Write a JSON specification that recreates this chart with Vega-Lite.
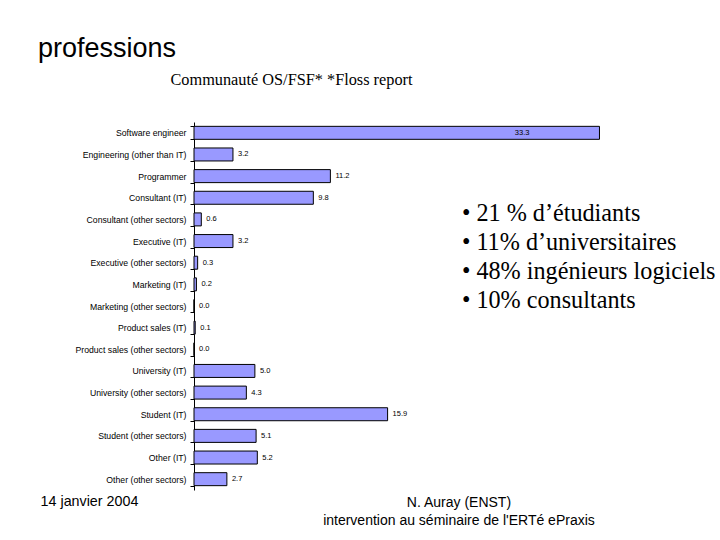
{
  "$schema": "https://vega.github.io/schema/vega-lite/v6.json",
  "autosize": {"type": "none"},
  "padding": {"left": 194, "top": 122, "right": 112, "bottom": 50},
  "width": 414,
  "height": 368,
  "background": "#ffffff",
  "config": {"view": {"stroke": null}},
  "title": {"text": "professions", "anchor": "start", "frame": "group", "dx": -156, "fontSize": 27, "font": "Liberation Sans", "fontWeight": "normal", "color": "#000000", "offset": 8},
  "data": {"values": [
    {"profession": "Software engineer", "value": 33.3},
    {"profession": "Engineering (other than IT)", "value": 3.2},
    {"profession": "Programmer", "value": 11.2},
    {"profession": "Consultant (IT)", "value": 9.8},
    {"profession": "Consultant (other sectors)", "value": 0.6},
    {"profession": "Executive (IT)", "value": 3.2},
    {"profession": "Executive (other sectors)", "value": 0.3},
    {"profession": "Marketing (IT)", "value": 0.2},
    {"profession": "Marketing (other sectors)", "value": 0.0},
    {"profession": "Product sales (IT)", "value": 0.1},
    {"profession": "Product sales (other sectors)", "value": 0.0},
    {"profession": "University (IT)", "value": 5.0},
    {"profession": "University (other sectors)", "value": 4.3},
    {"profession": "Student (IT)", "value": 15.9},
    {"profession": "Student (other sectors)", "value": 5.1},
    {"profession": "Other (IT)", "value": 5.2},
    {"profession": "Other (other sectors)", "value": 2.7}
  ]},
  "layer": [
    {
      "mark": {"type": "bar", "fill": "#9999ff", "stroke": "#000000", "strokeWidth": 1},
      "encoding": {
        "y": {"field": "profession", "type": "nominal", "sort": null,
          "scale": {"paddingInner": 0.4, "paddingOuter": 0.2},
          "axis": {"title": null, "domain": true, "domainColor": "#000000", "ticks": true, "tickColor": "#000000", "tickSize": 4, "tickBand": "extent", "labelFont": "Liberation Sans", "labelFontSize": 8.7, "labelColor": "#000000", "labelPadding": 4, "grid": false}},
        "x": {"field": "value", "type": "quantitative", "scale": {"domain": [0, 34], "nice": false},
          "axis": {"orient": "top", "title": "Communauté OS/FSF* *Floss report", "labels": false, "ticks": false, "domain": false, "grid": false, "titleFont": "Liberation Serif", "titleFontSize": 16.3, "titleFontWeight": "normal", "titleColor": "#000000", "titleX": 97, "titleY": -43, "titleAlign": "center", "titleBaseline": "middle"}}
      }
    },
    {
      "transform": [{"filter": "datum.value < 30"}],
      "mark": {"type": "text", "align": "left", "baseline": "middle", "dx": 5, "font": "Liberation Sans", "fontSize": 7.5, "color": "#000000"},
      "encoding": {
        "y": {"field": "profession", "type": "nominal", "sort": null},
        "x": {"field": "value", "type": "quantitative"},
        "text": {"field": "value", "type": "quantitative", "format": ".1f"}
      }
    },
    {
      "transform": [{"filter": "datum.value >= 30"}],
      "mark": {"type": "text", "align": "right", "baseline": "middle", "dx": -70, "font": "Liberation Sans", "fontSize": 7.5, "color": "#000000"},
      "encoding": {
        "y": {"field": "profession", "type": "nominal", "sort": null},
        "x": {"field": "value", "type": "quantitative"},
        "text": {"field": "value", "type": "quantitative", "format": ".1f"}
      }
    },
    {
      "data": {"values": [{}]},
      "mark": {"type": "text", "text": ["• 21 % d’étudiants", "• 11% d’universitaires", "• 48% ingénieurs logiciels", "• 10% consultants"], "align": "left", "baseline": "middle", "lineHeight": 29, "font": "Liberation Serif", "fontSize": 24.2, "color": "#000000"},
      "encoding": {
        "x": {"datum": 22.0},
        "y": {"datum": "Consultant (other sectors)", "bandPosition": 0.1}
      }
    },
    {
      "data": {"values": [{}]},
      "mark": {"type": "text", "text": "14 janvier 2004", "align": "left", "baseline": "middle", "font": "Liberation Sans", "fontSize": 14.3, "color": "#000000"},
      "encoding": {
        "x": {"datum": -12.6},
        "y": {"datum": "Other (other sectors)", "bandPosition": 2.25}
      }
    },
    {
      "data": {"values": [{}]},
      "mark": {"type": "text", "text": ["N. Auray (ENST)", "intervention au séminaire de l'ERTé ePraxis"], "align": "center", "baseline": "middle", "lineHeight": 18, "font": "Liberation Sans", "fontSize": 14, "color": "#000000"},
      "encoding": {
        "x": {"datum": 21.76},
        "y": {"datum": "Other (other sectors)", "bandPosition": 2.33}
      }
    }
  ]
}
